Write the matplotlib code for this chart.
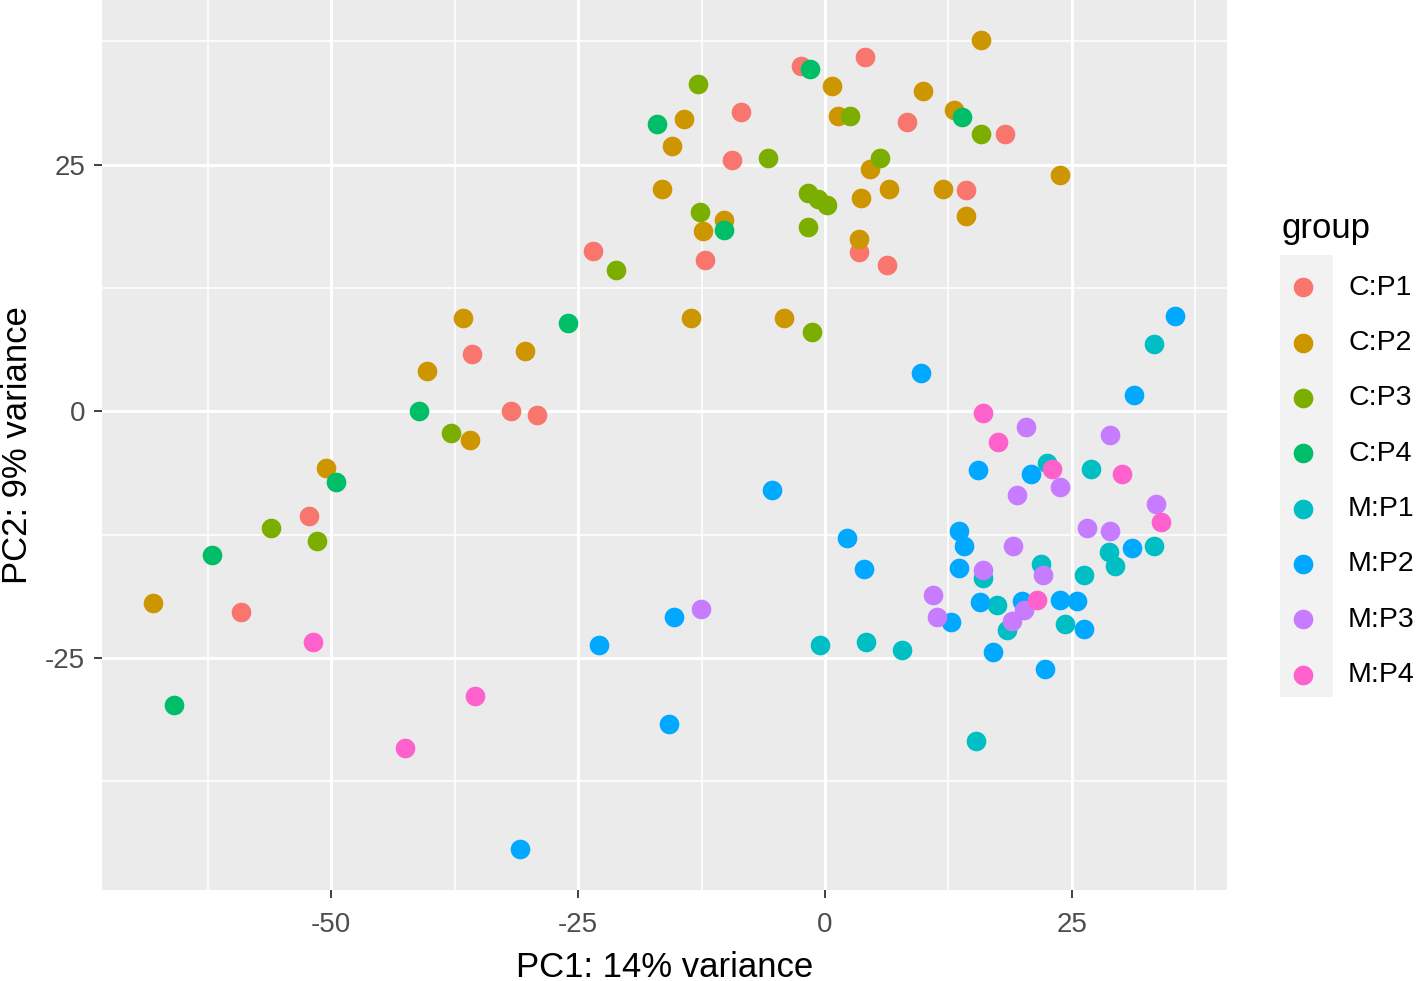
import matplotlib.pyplot as plt
from matplotlib.patches import Rectangle
from matplotlib.ticker import MultipleLocator

plt.rcParams['font.family'] = ['Liberation Sans', 'DejaVu Sans']
plt.rcParams['axes.unicode_minus'] = False

# --------- DATOS ---------
grupos = ["C:P1", "C:P2", "C:P3", "C:P4", "M:P1", "M:P2", "M:P3", "M:P4"]
colores = ["#F8766D", "#CD9600", "#7CAE00", "#00BE67",
           "#00BFC4", "#00A9FF", "#C77CFF", "#FF61CC"]

pc1 = {
    "C:P1": [4.1, -2.4, 8.3, -8.5, -9.4, 18.2, 14.3, 3.4, 6.3, -23.5, -12.1,
             -35.7, -31.8, -29.2, -52.2, -59.1],
    "C:P2": [15.8, 0.7, 9.9, 13.1, 1.3, -14.3, -15.5, 4.6, 23.8, -16.5, 3.6,
             6.5, 11.9, 14.3, -10.2, -12.4, 3.4, -13.6, -4.2, -36.7, -30.4,
             -40.3, -35.9, -50.5, -68.0],
    "C:P3": [-12.9, 15.8, 2.5, -5.8, 5.6, -1.7, -0.7, 0.2, -12.7, -1.7, -21.2,
             -1.3, -37.9, -56.1, -51.4],
    "C:P4": [-1.5, 13.9, -17.0, -10.2, -26.0, -41.1, -49.5, -62.1, -65.9],
    "M:P1": [33.3, 22.5, 26.9, 28.8, 33.3, 29.4, 16.0, 21.9, 26.2, 17.4, 18.4,
             24.3, 7.8, 15.3, -0.5, 4.2],
    "M:P2": [35.4, 9.7, 31.3, 15.5, 20.9, 13.6, 14.1, 31.1, 13.6, 15.7, 12.8,
             19.9, 23.8, 25.5, 26.2, 17.0, 22.3, -30.9, -22.9, -15.3, -15.8,
             -5.4, 2.2, 3.9],
    "M:P3": [20.4, 28.9, 19.4, 23.8, 33.5, 26.5, 28.9, 19.0, 16.0, 22.1, 10.9,
             11.3, 18.9, 20.1, -12.6],
    "M:P4": [16.0, 17.5, 23.0, 30.1, 34.0, 21.5, -51.8, -35.4, -42.5],
}

pc2 = {
    "C:P1": [35.9, 35.0, 29.3, 30.3, 25.5, 28.1, 22.4, 16.2, 14.8, 16.3, 15.3,
             5.8, 0.0, -0.4, -10.6, -20.3],
    "C:P2": [37.6, 33.0, 32.5, 30.6, 29.9, 29.6, 26.9, 24.6, 24.0, 22.5, 21.6,
             22.5, 22.5, 19.8, 19.4, 18.3, 17.5, 9.5, 9.5, 9.5, 6.1,
             4.1, -2.9, -5.75, -19.4],
    "C:P3": [33.2, 28.1, 29.9, 25.7, 25.7, 22.1, 21.5, 20.9, 20.2, 18.7, 14.3,
             8.05, -2.15, -11.8, -13.1],
    "C:P4": [34.7, 29.8, 29.1, 18.4, 9.0, 0.0, -7.2, -14.5, -29.8],
    "M:P1": [6.8, -5.2, -5.8, -14.2, -13.6, -15.7, -16.9, -15.5, -16.6, -19.6,
             -22.1, -21.5, -24.2, -33.4, -23.7, -23.4],
    "M:P2": [9.7, 3.9, 1.7, -5.9, -6.3, -12.1, -13.6, -13.8, -15.9, -19.3,
             -21.3, -19.2, -19.1, -19.2, -22.0, -24.4, -26.1, -44.3, -23.7,
             -20.8, -31.7, -8.0, -12.8, -16.0],
    "M:P3": [-1.6, -2.4, -8.5, -7.7, -9.4, -11.8, -12.1, -13.6, -16.1, -16.6,
             -18.6, -20.8, -21.2, -20.1, -20.0],
    "M:P4": [-0.2, -3.1, -5.8, -6.3, -11.2, -19.1, -23.4, -28.8, -34.1],
}

etiqueta_x = "PC1: 14% variance"
etiqueta_y = "PC2: 9% variance"

# --------- FIGURA ---------
fig = plt.figure(figsize=(14.18, 9.81), dpi=100)
ax = fig.add_axes([102 / 1418, 1 - 890 / 981, (1227 - 102) / 1418, 890 / 981])

ax.set_facecolor("#EBEBEB")
for lado in ax.spines.values():
    lado.set_visible(False)

ax.xaxis.set_major_locator(MultipleLocator(25))
ax.yaxis.set_major_locator(MultipleLocator(25))
ax.xaxis.set_minor_locator(MultipleLocator(12.5))
ax.yaxis.set_minor_locator(MultipleLocator(12.5))
ax.grid(which="major", color="white", linewidth=2.2)
ax.grid(which="minor", color="white", linewidth=1.1)
ax.set_axisbelow(True)

for grupo, color in zip(grupos, colores):
    ax.scatter(pc1[grupo], pc2[grupo], s=200, color=color, label=grupo,
               linewidths=0, zorder=3)

ax.set_xlim(-73.2, 40.7)
ax.set_ylim(-48.5, 41.7)

ax.tick_params(which="major", length=6, width=1.3, color="#333333",
               labelsize=20, labelcolor="#4D4D4D", pad=6)
ax.tick_params(axis="x", which="major", pad=10)
ax.tick_params(which="minor", length=0)

ax.set_xlabel(etiqueta_x, fontsize=25, color="black", labelpad=9)
ax.set_ylabel(etiqueta_y, fontsize=25, color="black", labelpad=8)

# Fondo gris de las claves de la leyenda (estilo ggplot)
fig.patches.append(Rectangle((1280 / 1418, 1 - 697 / 981), 53 / 1418, 442 / 981,
                             transform=fig.transFigure, facecolor="#F2F2F2",
                             edgecolor="none", zorder=-1))

leyenda = ax.legend(loc="upper left", bbox_to_anchor=(1270 / 1418, 1 - 201 / 981),
                    bbox_transform=fig.transFigure, frameon=False,
                    title="group", fontsize=20.5, title_fontsize=25,
                    labelspacing=1.03, handletextpad=0.82, borderaxespad=0,
                    markerscale=1.0, handlelength=1.52)
leyenda._legend_box.align = "left"

fig.savefig("out.png", dpi=100)
